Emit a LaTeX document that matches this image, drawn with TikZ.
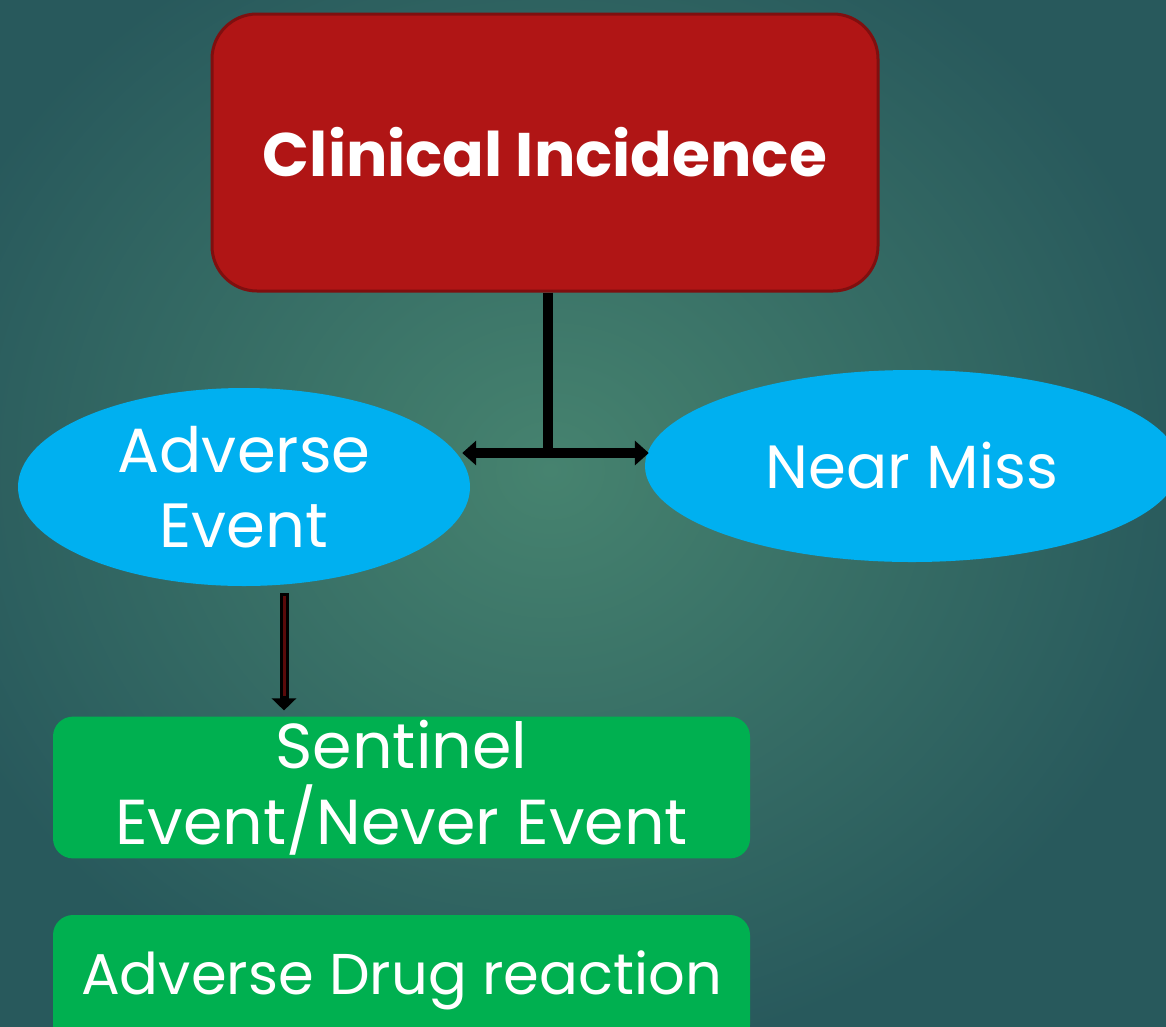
\documentclass[tikz,border=0pt]{standalone}
\usepackage{fontspec}
\setmainfont{Poppins}
\usetikzlibrary{shapes.geometric,arrows.meta,calc}
\definecolor{bgin}{HTML}{46836F}
\definecolor{bgout}{HTML}{28595C}
\definecolor{redfill}{HTML}{B01515}
\definecolor{redline}{HTML}{7F0F0F}
\definecolor{bluefill}{HTML}{00B0F0}
\definecolor{greenfill}{HTML}{00B050}
\definecolor{shaftred}{HTML}{5A0A0A}
\begin{document}
\begin{tikzpicture}[x=1pt,y=-1pt,
  redbox/.style={draw=redline, line width=3pt, fill=redfill, rounded corners=45pt,
    minimum width=666pt, minimum height=277pt, text=white, font=\fontsize{61.5}{70}\selectfont\bfseries},
  ell/.style={ellipse, fill=bluefill, inner sep=0pt, text=white, align=center},
  greenbox/.style={fill=greenfill, rounded corners=20pt, minimum width=697pt,
    text=white, align=center},
  conn/.style={line width=10pt, black},
  tip/.style={-{Triangle[length=14pt,width=24pt]}}
]
\useasboundingbox (0,0) rectangle (1166,1026);
\shade[inner color=bgin, outer color=bgout] (-100,-120) rectangle (1200,1060);
\node[redbox] (ci) at (545,152.5) {Clinical Incidence};
\node[ell, minimum width=452pt, minimum height=198pt, font=\fontsize{62.5}{75}\selectfont] (ae) at (244,487) {Adverse\\Event};
\node[ell, minimum width=534pt, minimum height=192pt, font=\fontsize{61}{75}\selectfont] (nm) at (912,466) {Near Miss};
\node[greenbox, minimum height=139pt, font=\fontsize{63.5}{76}\selectfont] (se) at (401.5,787.5) {Sentinel\\Event/Never Event};
\node[greenbox, minimum height=130pt, font=\fontsize{57.5}{70}\selectfont] (adr) at (401.5,980) {Adverse Drug reaction};
\coordinate (j) at (548,453);
\draw[conn] (ci.south -| j) -- ([yshift=5pt]j);
\draw[conn, tip] ([xshift=5pt]j) -- ([xshift=-8pt]j -| ae.east);
\draw[conn, tip] ([xshift=-5pt]j) -- ([xshift=4pt]j -| nm.west);
\coordinate (as) at ($(ae.south)+(40,7)$);
\draw[line width=9pt, black, -{Triangle[length=12pt,width=24pt]}, shorten >=6pt] (as) -- (as |- se.north);
\draw[line width=3pt, shaftred, shorten >=20pt, shorten <=3pt] (as) -- (as |- se.north);
\end{tikzpicture}
\end{document}
